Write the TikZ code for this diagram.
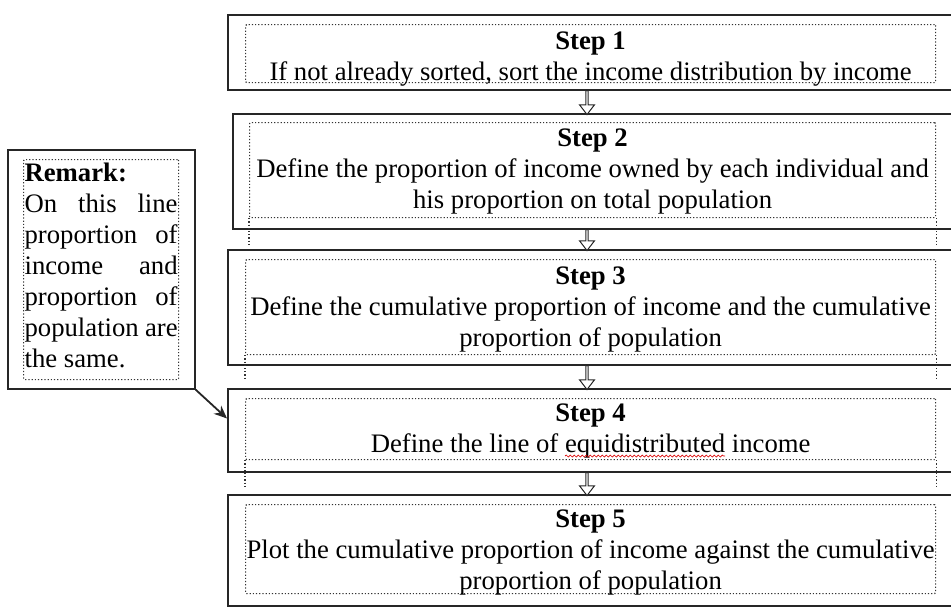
\documentclass[tikz,border=0pt]{standalone}
\usepackage{fontspec}
\setmainfont{Liberation Serif}
\usetikzlibrary{shapes.arrows,calc,arrows.meta,decorations.pathmorphing}
\begin{document}
\begin{tikzpicture}[x=1pt,y=-1pt,
  outerbox/.style={draw=black!85, line width=1.7pt, anchor=north west, inner sep=0pt},
  innerbox/.style={draw=black!80, dotted, line width=1.2pt, anchor=north west, inner sep=0pt,
    rounded corners=1pt},
  steptext/.style={align=center, inner sep=0pt, font=\fontsize{26.7}{31}\selectfont},
  ext/.style={draw=black!80, dotted, line width=1.2pt},
  flowarrow/.style={single arrow, draw=black!85, fill=white, line width=1pt, rotate=-90,
    minimum height=24pt, minimum width=15pt, single arrow head extend=3pt,
    single arrow tip angle=75, inner sep=0pt},
  pointer/.style={draw=black!85, line width=1.8pt, -{Stealth[length=13pt,width=11pt]}},
  squiggle/.style={draw=red!85!black, line width=0.7pt, decorate,
    decoration={snake, segment length=4pt, amplitude=1pt}}
]
\useasboundingbox (0,0) rectangle (951,613);
\clip (0,0) rectangle (951,613);

% outer boxes (open to the right edge)
\node[outerbox, minimum width=733pt, minimum height=75pt]  (s1) at (227,14)  {};
\node[outerbox, minimum width=728pt, minimum height=115pt] (s2) at (232,113) {};
\node[outerbox, minimum width=733pt, minimum height=115pt] (s3) at (227,249) {};
\node[outerbox, minimum width=733pt, minimum height=83pt]  (s4) at (227,388) {};
\node[outerbox, minimum width=733pt, minimum height=111pt] (s5) at (227,494) {};

% inner dotted text frames
\node[innerbox, minimum width=690pt, minimum height=58pt] (i1) at (245,24)  {};
\node[innerbox, minimum width=686pt, minimum height=95pt] (i2) at (249,122) {};
\node[innerbox, minimum width=690pt, minimum height=95pt] (i3) at (245,259) {};
\node[innerbox, minimum width=690pt, minimum height=61pt] (i4) at (245,398) {};
\node[innerbox, minimum width=690pt, minimum height=89pt] (i5) at (245,504) {};

% texts
\node[steptext] (t1) at ($(i1.center)+(0,5)$)
  {\textbf{Step 1}\\If not already sorted, sort the income distribution by income};
\node[steptext] (t2) at ($(i2.center)+(0,1.5)$)
  {\textbf{Step 2}\\Define the proportion of income owned by each individual and\\his proportion on total population};
\node[steptext] (t3) at ($(i3.center)+(0,2.5)$)
  {\textbf{Step 3}\\Define the cumulative proportion of income and the cumulative\\proportion of population};
\node[steptext] (t4) at ($(i4.center)+(0,2)$)
  {\textbf{Step 4}\\Define the line of equidistributed income};
\node[steptext] (t5) at ($(i5.center)+(0,3.5)$)
  {\textbf{Step 5}\\Plot the cumulative proportion of income against the cumulative\\proportion of population};

% dotted frame sides running on below the boxes
\draw[ext] (i2.south west) -- ++(0,26);
\draw[ext] (i2.south east) -- ++(0,26);
\draw[ext] (i3.south west) -- ++(0,25);
\draw[ext] (i3.south east) -- ++(0,25);
\draw[ext] (i4.south west) -- ++(0,27);
\draw[ext] (i4.south east) -- ++(0,27);

% spelling mark under "equidistributed"
\draw[squiggle] (565,456) -- (725,456);

% hollow arrows between the steps
\coordinate (ax) at (587,0);
\node[flowarrow] (a1) at ($(s1.south -| ax)!0.5!(s2.north -| ax)$) {};
\node[flowarrow, minimum height=21pt] (a2) at ($(s2.south -| ax)!0.5!(s3.north -| ax)$) {};
\node[flowarrow] (a3) at ($(s3.south -| ax)!0.5!(s4.north -| ax)$) {};
\node[flowarrow, minimum height=23pt] (a4) at ($(s4.south -| ax)!0.5!(s5.north -| ax)$) {};

% remark
\node[outerbox, minimum width=187pt, minimum height=239pt] (r) at (7,149) {};
\node[innerbox, minimum width=155pt, minimum height=220pt] (ri) at (23,159) {};
\node[steptext, align=left] (rt) at ($(ri.center)+(0,-4)$)
  {\textbf{Remark:}\\
   \makebox[153pt][s]{On this line}\\
   \makebox[153pt][s]{proportion of}\\
   \makebox[153pt][s]{income and}\\
   \makebox[153pt][s]{proportion of}\\
   \makebox[153pt][s]{population are}\\
   the same.};
\draw[pointer] (r.south east) -- ($(s4.north west)!0.36!(s4.south west)$);
\end{tikzpicture}
\end{document}
